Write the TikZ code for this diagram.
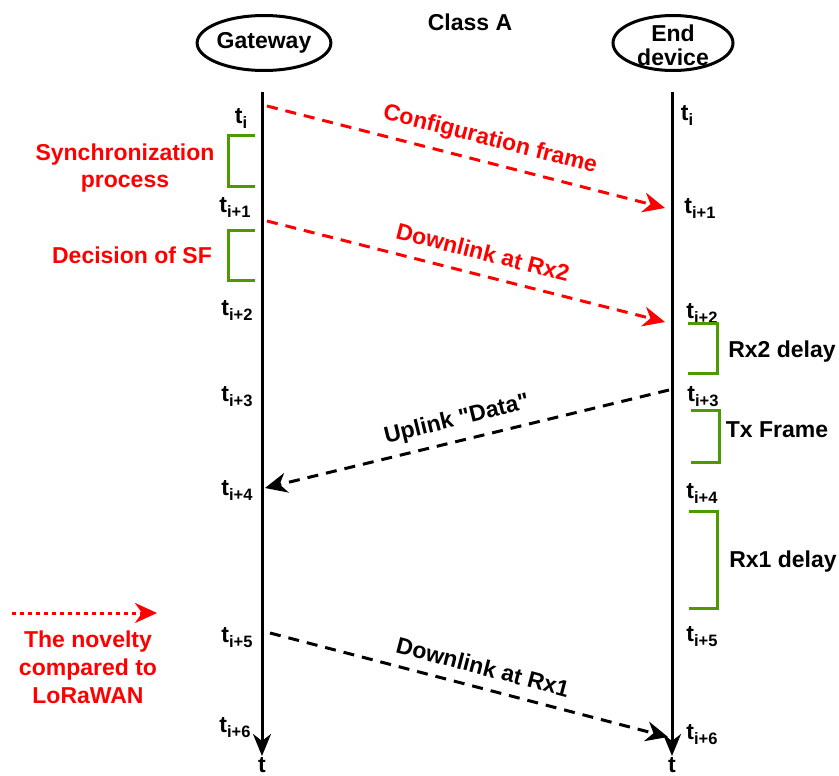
\documentclass[tikz,border=0pt]{standalone}
\usepackage{fontspec}
\setmainfont{Liberation Sans}[Ligatures=TeXOff]
\usetikzlibrary{arrows.meta,shapes.geometric}
\definecolor{myred}{RGB}{255,0,0}
\definecolor{mygreen}{RGB}{77,153,0}
\newcommand{\tlab}[1]{t\raisebox{-5pt}{\fontsize{16.5}{16.5}\selectfont #1}}
\begin{document}
\begin{tikzpicture}[x=1pt,y=-1pt,
  every node/.style={font=\fontsize{23}{24}\selectfont\bfseries, inner sep=0pt},
  actor/.style={ellipse, draw, line width=3pt, minimum width=120pt, minimum height=55pt},
  life/.style={line width=3pt, -{Stealth[length=22pt,width=18pt,inset=7pt]}},
  msg/.style={line width=3pt, dash pattern=on 11pt off 8pt, -{Stealth[length=22pt,width=20pt,inset=7pt]}},
  bracketline/.style={draw=mygreen, line width=3pt},
  redtext/.style={text=myred, align=center, font=\fontsize{23}{27}\selectfont\bfseries}
]
\useasboundingbox (0,0) rectangle (839,776);

% title and actors
\node (title) at (470,22) {Class A};
\node[actor] (gw) at (264,43) {Gateway};
\node[actor] (ed) at (673,43) {};
\node[align=center] (edtext) at (673,45) {End\\device};

% lifelines
\coordinate (gwtop) at (262,92);
\coordinate (gwbot) at (262,756);
\coordinate (edtop) at (672,92);
\coordinate (edbot) at (672,756);
\draw[life] (gwtop) -- (gwbot);
\draw[life] (edtop) -- (edbot);
\node (gwt) at (262,765) {t};
\node (edt) at (672,765) {t};

% time labels gateway
\node (g0) at (241,118) {\tlab{i}};
\node (g1) at (235,207) {\tlab{i+1}};
\node (g2) at (237,310) {\tlab{i+2}};
\node (g3) at (237,397) {\tlab{i+3}};
\node (g4) at (237,490) {\tlab{i+4}};
\node (g5) at (237,638) {\tlab{i+5}};
\node (g6) at (235,728) {\tlab{i+6}};
% time labels end device
\node (e0) at (687,115) {\tlab{i}};
\node (e1) at (700,208) {\tlab{i+1}};
\node (e2) at (702,313) {\tlab{i+2}};
\node (e3) at (703,397) {\tlab{i+3}};
\node (e4) at (702,493) {\tlab{i+4}};
\node (e5) at (702,637) {\tlab{i+5}};
\node (e6) at (702,735) {\tlab{i+6}};

% messages
\coordinate (m1s) at (267,106); \coordinate (m1e) at (665,208);
\coordinate (m2s) at (267,221); \coordinate (m2e) at (665,322);
\coordinate (m3s) at (669,390); \coordinate (m3e) at (265,488);
\coordinate (m4s) at (270,633); \coordinate (m4e) at (668,737);
\draw[msg, myred] (m1s) -- (m1e);
\draw[msg, myred] (m2s) -- (m2e);
\draw[msg] (m3s) -- (m3e);
\draw[msg] (m4s) -- (m4e);
\node[text=myred, rotate=-14.4] (l1) at (490,140) {Configuration frame};
\node[text=myred, rotate=-14.3] (l2) at (483,252) {Downlink at Rx2};
\node[rotate=13.7] (l3) at (457,420) {Uplink "Data"};
\node[rotate=-14.6] (l4) at (483,667) {Downlink at Rx1};

% brackets
\draw[bracketline] (255,135) -- (228,135) -- (228,186) -- (255,186);
\draw[bracketline] (255,230) -- (228,230) -- (228,280) -- (255,280);
\draw[bracketline] (688,323) -- (717,323) -- (717,373) -- (688,373);
\draw[bracketline] (691,410) -- (719,410) -- (719,462) -- (691,462);
\draw[bracketline] (689,511) -- (717,511) -- (717,608) -- (689,608);

% bracket labels
\node[redtext] (sync) at (125,168) {Synchronization\\process};
\node[redtext] (dec) at (132,255) {Decision of SF};
\node (rx2) at (782,352) {Rx2 delay};
\node (tx) at (777,430) {Tx Frame};
\node (rx1) at (783,562) {Rx1 delay};

% legend
\coordinate (lgs) at (12,613);
\coordinate (lge) at (157,613);
\draw[myred, line width=3pt, dash pattern=on 4pt off 4pt, -{Stealth[length=22pt,width=20pt,inset=7pt]}] (lgs) -- (lge);
\node[redtext, font=\fontsize{23}{28}\selectfont\bfseries] (lgt) at (88,667) {The novelty\\compared to\\LoRaWAN};
\end{tikzpicture}
\end{document}
